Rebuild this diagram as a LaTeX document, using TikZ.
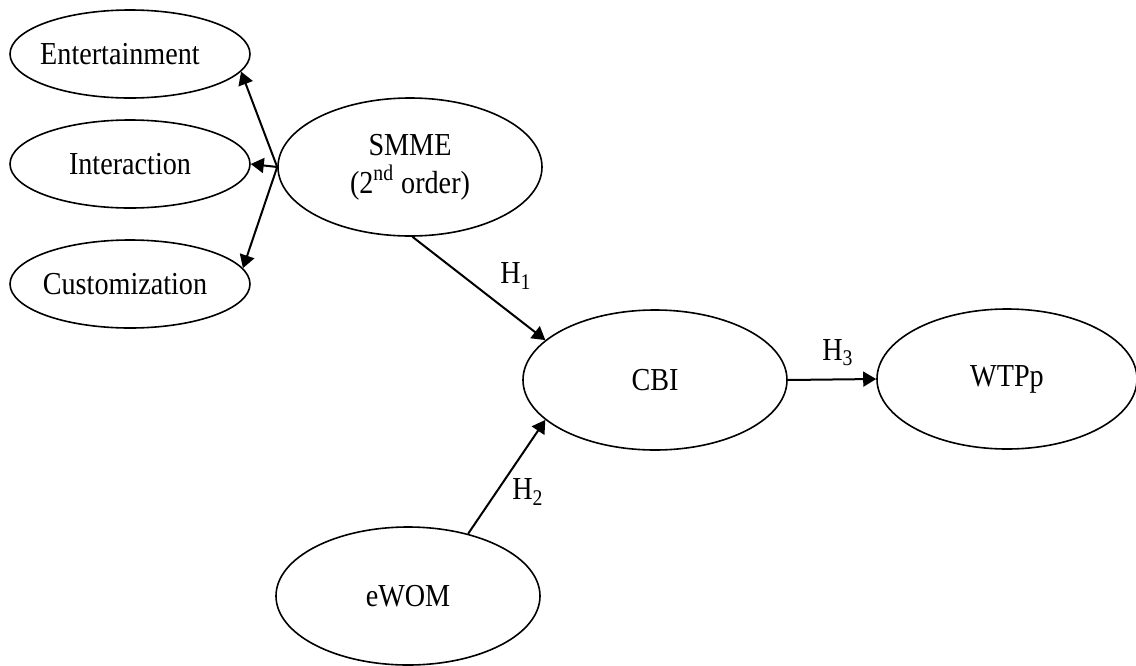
\documentclass[tikz,border=0pt]{standalone}
\usepackage{fontspec}
\setmainfont{Liberation Serif}[FakeStretch=0.88]
\usetikzlibrary{shapes.geometric,arrows.meta}
\tikzset{
  construct/.style={draw, ellipse, line width=0.8pt, inner sep=0pt,
    font=\fontsize{16}{19}\selectfont, align=center},
  small/.style={construct, minimum width=120pt, minimum height=44pt},
  big/.style={construct, minimum width=132pt, minimum height=69pt},
  path/.style={line width=1pt, -{Triangle[length=6.5pt,width=7.5pt]}},
  hlabel/.style={font=\fontsize{16}{17}\selectfont, inner sep=0pt}
}
\begin{document}
\begin{tikzpicture}[x=0.5pt,y=-0.5pt]
\useasboundingbox (0,0) rectangle (1136,665);
\node[small] (ent) at (130,54) {\makebox[0pt]{Entertainment\hspace*{10pt}}};
\node[small] (int) at (130,164) {Interaction};
\node[small] (cus) at (130,284) {\makebox[0pt]{Customization\hspace*{5pt}}};
\node[big] (smme) at (410,167) {SMME\\(2\textsuperscript{nd} order)};
\node[big, minimum height=70pt] (cbi) at (655,380) {CBI};
\node[big, minimum width=130pt, minimum height=70pt] (wtp) at (1007,379) {WTPp};
\node[big] (ewom) at (408,596) {eWOM};
\draw[path] (smme.west) -- (ent.-9);
\draw[path] (smme.west) -- (int.east);
\draw[path] (smme.west) -- (cus.8);
\draw[path] (smme.-88) -- (cbi.160);
\draw[path] (ewom.46) -- (cbi.200);
\draw[path] (cbi.east) -- (wtp.west);
\node[hlabel] (h1) at (516,276) {H\textsubscript{1}};
\node[hlabel] (h2) at (528,492) {H\textsubscript{2}};
\node[hlabel] (h3) at (838,353) {H\textsubscript{3}};
\end{tikzpicture}
\end{document}
